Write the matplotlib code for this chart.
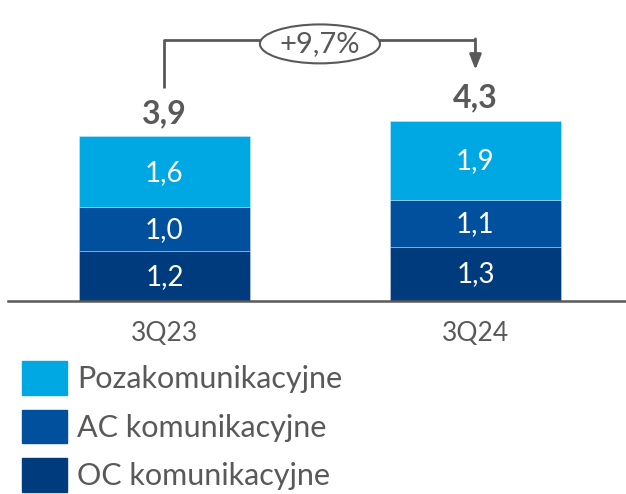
import numpy as np
import matplotlib.pyplot as plt
from matplotlib.patches import Ellipse, Patch

plt.rcParams['font.family'] = ['Lato', 'DejaVu Sans']

# Data (segment heights, labels as printed)
categories = ['3Q23', '3Q24']
oc = [1.19, 1.29]
ac = [1.04, 1.10]
poza = [1.69, 1.91]
oc_labels = ['1,2', '1,3']
ac_labels = ['1,0', '1,1']
poza_labels = ['1,6', '1,9']
totals = ['3,9', '4,3']
change_label = '+9,7%'
series_names = ['Pozakomunikacyjne', 'AC komunikacyjne', 'OC komunikacyjne']

c_poza = '#00A8E3'
c_ac = '#00509D'
c_oc = '#003C7D'
gray = '#595959'

W, H = 626, 494
ppu = 41.86  # pixels per data unit
base = 300.5
fig = plt.figure(figsize=(W / 100, H / 100), dpi=100)
ax = fig.add_axes([8 / W, (H - base) / H, 618 / W, base / H])

x = np.arange(len(categories))
width = 0.55
oc_a, ac_a, poza_a = np.array(oc), np.array(ac), np.array(poza)

edge = dict(edgecolor=(1, 1, 1, 0.35), linewidth=0.6)
ax.bar(x, oc_a, width, color=c_oc, **edge)
ax.bar(x, ac_a, width, bottom=oc_a, color=c_ac, **edge)
ax.bar(x, poza_a, width, bottom=oc_a + ac_a, color=c_poza, **edge)

half_digit = 9 / ppu
for i in x:
    ax.text(i, oc_a[i] / 2 - half_digit, oc_labels[i], ha='center', va='baseline',
            color='white', fontsize=20)
    ax.text(i, oc_a[i] + ac_a[i] / 2 - half_digit, ac_labels[i], ha='center', va='baseline',
            color='white', fontsize=20)
    ax.text(i, oc_a[i] + ac_a[i] + poza_a[i] / 2 - half_digit, poza_labels[i], ha='center',
            va='baseline', color='white', fontsize=20)
    top = oc_a[i] + ac_a[i] + poza_a[i]
    ax.text(i, top + 13 / ppu, totals[i], ha='center', va='baseline', color=gray,
            fontsize=23, fontweight='bold')

# Change bracket with arrow
top_y = 6.22
ax.plot([0, 0, 1], [5.08, top_y, top_y], color=gray, lw=2, solid_capstyle='butt', clip_on=False)
ax.annotate('', xy=(1, 5.51), xytext=(1, top_y + 0.03),
            arrowprops=dict(arrowstyle='-|>,head_length=0.9,head_width=0.35', color=gray, lw=2,
                            shrinkA=0, shrinkB=0))
ax.add_patch(Ellipse((0.5, 6.13), 0.386, 0.93, facecolor='white', edgecolor=gray, lw=1.5, zorder=3))
ax.text(0.5, 6.13, change_label, ha='center', va='center', color=gray, fontsize=21, zorder=4)

ax.set_xlim(-0.503, 1.484)
ax.set_ylim(0, base / ppu)
ax.set_xticks(x)
ax.set_xticklabels(categories, fontsize=19, color=gray)
ax.tick_params(axis='x', length=0, pad=15)
ax.set_yticks([])
for s in ['top', 'right', 'left']:
    ax.spines[s].set_visible(False)
ax.spines['bottom'].set_color(gray)
ax.spines['bottom'].set_linewidth(1.8)

handles = [Patch(color=c_poza), Patch(color=c_ac), Patch(color=c_oc)]
fig.legend(handles, series_names, loc='upper left', bbox_to_anchor=(22 / W, 1 - 361 / H),
           frameon=False, fontsize=22, handlelength=1.47, handleheight=1.33,
           labelspacing=0.48, handletextpad=0.33, borderpad=0, borderaxespad=0, labelcolor=gray)

fig.savefig('out.png', dpi=100)
